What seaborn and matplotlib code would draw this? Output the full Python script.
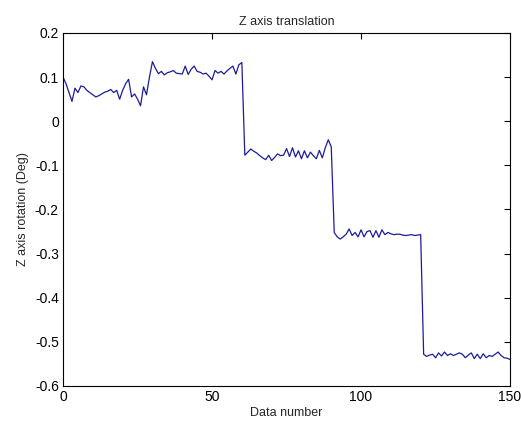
import numpy as np
import pandas as pd
import seaborn as sns
import matplotlib
matplotlib.use('Agg')
import matplotlib.pyplot as plt

# Z axis readings, one per data number (0..150)
seg1 = [0.10, 0.085, 0.065, 0.045, 0.075, 0.065, 0.08, 0.078, 0.07, 0.065,
        0.06, 0.055, 0.058, 0.062, 0.066, 0.068, 0.072, 0.065, 0.07, 0.05,
        0.07, 0.085, 0.095, 0.055, 0.062, 0.05, 0.035, 0.078, 0.06, 0.10,
        0.135]
seg2 = [0.12, 0.108, 0.113, 0.105, 0.11, 0.112, 0.115, 0.109, 0.108, 0.107,
        0.125, 0.106, 0.118, 0.125, 0.113, 0.111, 0.107, 0.109, 0.102, 0.094,
        0.115, 0.109, 0.113, 0.107, 0.114, 0.12, 0.125, 0.107, 0.128, 0.133]
seg3 = [-0.077, -0.07, -0.063, -0.068, -0.072, -0.078, -0.083, -0.087, -0.077, -0.089,
        -0.082, -0.074, -0.078, -0.077, -0.062, -0.08, -0.06, -0.081, -0.067, -0.085,
        -0.067, -0.083, -0.07, -0.078, -0.085, -0.066, -0.083, -0.06, -0.042, -0.058]
seg4 = [-0.252, -0.262, -0.267, -0.262, -0.256, -0.244, -0.259, -0.252, -0.262, -0.246,
        -0.262, -0.25, -0.248, -0.263, -0.248, -0.263, -0.246, -0.257, -0.252, -0.255,
        -0.257, -0.256, -0.256, -0.258, -0.259, -0.258, -0.257, -0.259, -0.258, -0.257]
seg5 = [-0.528, -0.533, -0.53, -0.528, -0.536, -0.525, -0.532, -0.523, -0.531, -0.527,
        -0.531, -0.528, -0.525, -0.528, -0.536, -0.53, -0.525, -0.538, -0.528, -0.538,
        -0.527, -0.536, -0.531, -0.533, -0.528, -0.523, -0.531, -0.536, -0.537, -0.54]

z_rot = seg1 + seg2 + seg3 + seg4 + seg5
data_number = list(range(len(z_rot)))
x_ticks = [0, 50, 100, 150]
y_ticks = [0.2, 0.1, 0, -0.1, -0.2, -0.3, -0.4, -0.5, -0.6]

df = pd.DataFrame({'n': data_number, 'z': z_rot})

sns.set_style('white')
plt.rcParams['font.family'] = ['Liberation Sans', 'DejaVu Sans']

fig = plt.figure(figsize=(5.21, 4.23), dpi=100)
ax = fig.add_axes([0.121, 0.0875, 0.858, 0.8345])
sns.lineplot(data=df, x='n', y='z', ax=ax, color='#1c1c9a', linewidth=0.9)

ax.set_xlim(0, 150)
ax.set_ylim(-0.6, 0.2)
ax.set_xticks(x_ticks)
ax.set_yticks(y_ticks)
ax.set_yticklabels(['0.2', '0.1', '0', '-0.1', '-0.2', '-0.3', '-0.4', '-0.5', '-0.6'])
ax.tick_params(direction='in', length=4, width=0.8, top=True, right=True,
               labelsize=10, colors='black', pad=3)
for s in ax.spines.values():
    s.set_color('black')
    s.set_linewidth(0.8)

ax.set_title('Z axis translation', fontsize=9, pad=6)
ax.set_xlabel('Data number', fontsize=9, labelpad=2)
ax.set_ylabel('Z axis rotation (Deg)', fontsize=9, labelpad=4)

fig.savefig('out.png', dpi=100)
